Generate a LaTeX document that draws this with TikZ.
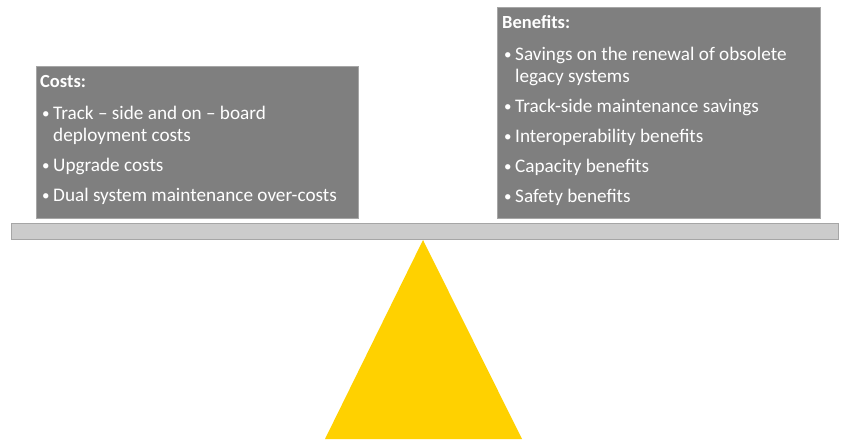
\documentclass[tikz,border=0pt]{standalone}
\usepackage{fontspec}
\setmainfont{Carlito}
\definecolor{boxfill}{HTML}{7F7F7F}
\definecolor{boxline}{HTML}{A6A6A6}
\definecolor{barfill}{HTML}{CCCCCC}
\definecolor{barline}{HTML}{A6A6A6}
\definecolor{gold}{HTML}{FFD100}
\begin{document}
\begin{tikzpicture}[x=1pt,y=-1pt,
  panel/.style={fill=boxfill,draw=boxline,line width=1pt},
  txt/.style={anchor=base west,inner sep=0pt,text=white,font=\fontsize{19.2}{22}\selectfont},
  head/.style={txt,font=\fontsize{18.5}{22}\selectfont\bfseries},
  bul/.style={txt},
  dot/.style={txt,font=\fontsize{15}{22}\selectfont}]
\useasboundingbox (0,0) rectangle (843,439);
% panels
\node[panel,minimum width=322pt,minimum height=152pt,anchor=north west,inner sep=0pt] (costs) at (36,66) {};
\node[panel,minimum width=323pt,minimum height=211pt,anchor=north west,inner sep=0pt] (benefits) at (497,7) {};
% bar
\node[fill=barfill,draw=barline,line width=0.6pt,minimum width=827pt,minimum height=16pt,anchor=north west,inner sep=0pt] (bar) at (11,223) {};
% fulcrum
\coordinate (apex) at (423,240);
\coordinate (bl) at (325,439);
\coordinate (br) at (522,439);
\fill[gold] (apex) -- (br) -- (bl) -- cycle;
% costs text
\node[head] (ch) at (40,87) {Costs:};
\node[dot] (cb1) at (42,118) {•};
\node[bul] (c1a) at (53,119) {Track – side and on – board};
\node[bul] (c1b) at (53,141) {deployment costs};
\node[dot] (cb2) at (42,170) {•};
\node[bul] (c2) at (53,171) {Upgrade costs};
\node[dot] (cb3) at (42,200) {•};
\node[bul] (c3) at (53,201) {Dual system maintenance over-costs};
% benefits text
\node[head] (bh) at (502,28) {Benefits:};
\node[dot] (bb1) at (504,59) {•};
\node[bul] (b1a) at (515,60) {Savings on the renewal of obsolete};
\node[bul] (b1b) at (515,82) {legacy systems};
\node[dot] (bb2) at (504,111) {•};
\node[bul] (b2) at (515,112) {Track-side maintenance savings};
\node[dot] (bb3) at (504,141) {•};
\node[bul] (b3) at (515,142) {Interoperability benefits};
\node[dot] (bb4) at (504,171) {•};
\node[bul] (b4) at (515,172) {Capacity benefits};
\node[dot] (bb5) at (504,201) {•};
\node[bul] (b5) at (515,202) {Safety benefits};
\end{tikzpicture}
\end{document}
